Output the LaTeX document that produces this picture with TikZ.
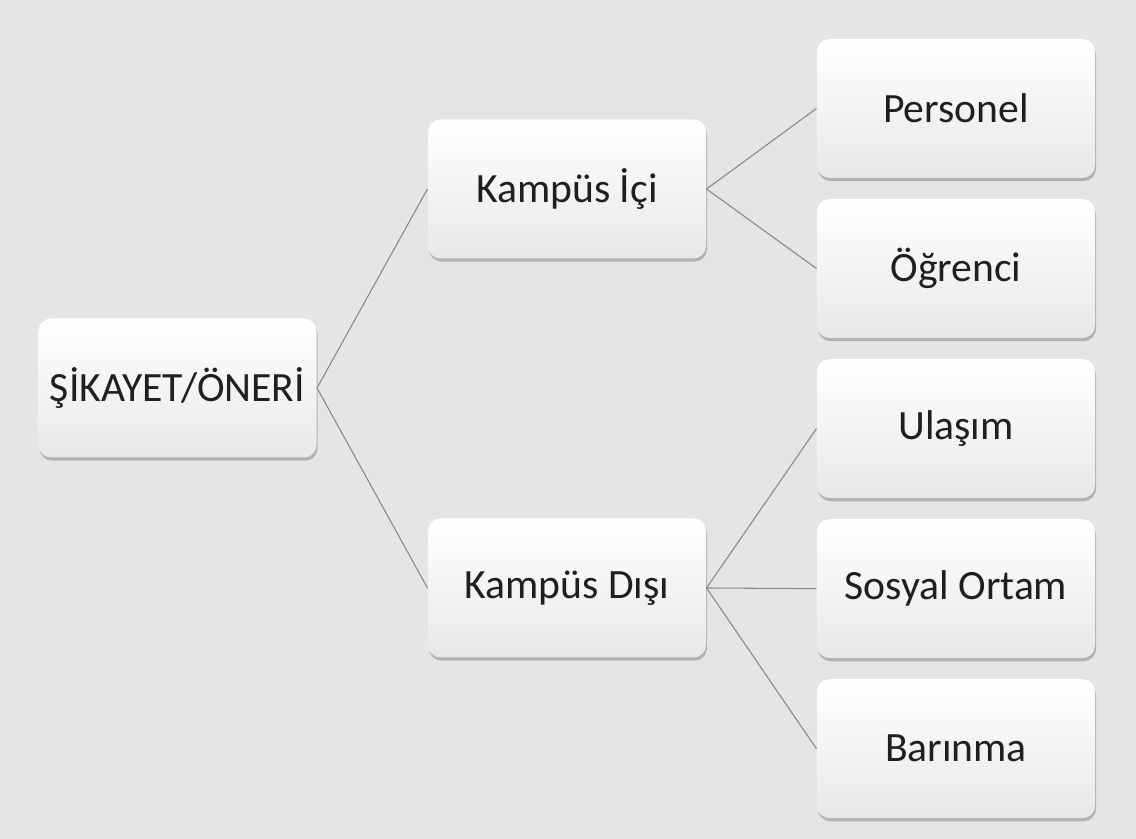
\documentclass[tikz,border=0pt]{standalone}
\usepackage{fontspec}
\setmainfont{Carlito}
\usetikzlibrary{positioning}
\usetikzlibrary{shadows}
\definecolor{zemin}{RGB}{229,229,229}
\definecolor{cizgi}{RGB}{135,135,135}

\begin{document}
\begin{tikzpicture}[-,semithick,
		kutu/.style={rectangle,rounded corners=0.25cm,minimum width=5.56cm,
			minimum height=2.78cm,inner sep=0pt,draw=none,
			top color=white,middle color=white,bottom color=black!9,
			drop shadow={shadow xshift=0.6pt,shadow yshift=-1.8pt,opacity=0.5},
			font=\fontsize{23.7}{28}\selectfont,text=black!88}]
		\tikzstyle{every edge}=[draw=cizgi,line width=0.6pt]
		
		% zemin
		\fill[zemin] (0,0) rectangle (22.72,16.78);
		\useasboundingbox (0,0) rectangle (22.72,16.78);
		
		\node[kutu]         (Sik)  at (3.55,9.02)   {ŞİKAYET/ÖNERİ};
		\node[kutu]         (KIc)  at (11.34,13.0)  {Kampüs İçi};
		\node[kutu]         (KDis) at (11.34,5.02)  {Kampüs Dışı};
		\node[kutu]         (Per)  at (19.12,14.61) {Personel};
		\node[kutu]         (Ogr)  [below=0.4cm of Per]  {Öğrenci};
		\node[kutu]         (Ula)  [below=0.4cm of Ogr]  {Ulaşım};
		\node[kutu]         (Sos)  [below=0.4cm of Ula]  {Sosyal Ortam};
		\node[kutu]         (Bar)  [below=0.4cm of Sos]  {Barınma};
		
		\path (Sik.east)  edge (KIc.west)
		(Sik.east)  edge (KDis.west)
		(KIc.east)  edge (Per.west)
		(KIc.east)  edge (Ogr.west)
		(KDis.east) edge (Ula.west)
		(KDis.east) edge (Sos.west)
		(KDis.east) edge (Bar.west)
		;
		\end{tikzpicture}
\end{document}
